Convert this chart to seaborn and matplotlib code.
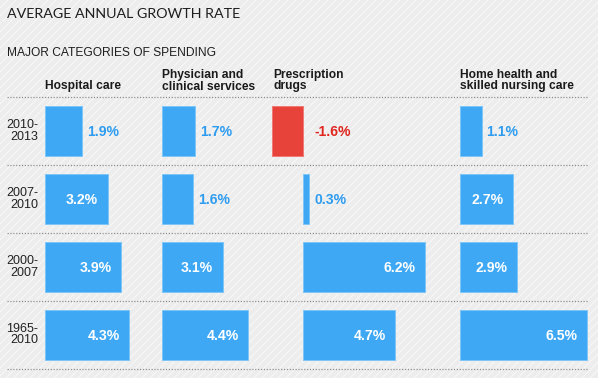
import matplotlib.pyplot as plt
from matplotlib.patches import Rectangle
import seaborn as sns
import pandas as pd

# data
periods = ["2010-\n2013", "2007-\n2010", "2000-\n2007", "1965-\n2010"]
categories = ["Hospital care", "Physician and\nclinical services",
              "Prescription\ndrugs", "Home health and\nskilled nursing care"]
hospital = [1.9, 3.2, 3.9, 4.3]
physician = [1.7, 1.6, 3.1, 4.4]
prescription = [-1.6, 0.3, 6.2, 4.7]
home_health = [1.1, 2.7, 2.9, 6.5]

series = [hospital, physician, prescription, home_health]

# layout (pixels)
W, H, DPI = 598, 378, 72
col_zero = [45, 162, 303, 460]      # where 0% sits in each column
px_per_pct = 19.6
xmin, xmax = -2.0, 6.7
rows_top, rows_bottom = 97.3, 368.5

BLUE = "#3ea8f5"
BLUE_EDGE = "#7ec5f8"
BLUE_TEXT = "#2d9cf0"
RED = "#e8433b"
RED_EDGE = "#f07a74"
RED_TEXT = "#e0251e"

sns.set_style("white")
plt.rcParams["font.family"] = ["Liberation Sans", "DejaVu Sans"]
plt.rcParams["hatch.linewidth"] = 1.0


def fx(x):
    return x / W


def fy(y):
    return 1 - y / H


fig = plt.figure(figsize=(W / DPI, H / DPI), dpi=DPI)
fig.patch.set_facecolor("#ededed")
fig.add_artist(Rectangle((0, 0), 1, 1, transform=fig.transFigure, facecolor="none",
                         edgecolor="#f8f8f8", hatch="///", lw=0, zorder=-5))

# titles
fig.text(fx(7), fy(18), "AVERAGE ANNUAL GROWTH RATE", family=["Lato", "DejaVu Sans"],
         fontweight="normal", fontsize=14.2, color="#1e1e1e", va="baseline")
fig.text(fx(7), fy(56), "MAJOR CATEGORIES OF SPENDING", fontsize=12,
         color="#1e1e1e", va="baseline")

# background axes for dotted separators and period labels
ax_bg = fig.add_axes([fx(7), fy(rows_bottom), fx(588 - 7), (rows_bottom - rows_top) / H])
ax_bg.set_xlim(0, 1)
ax_bg.set_ylim(len(periods) - 0.5, -0.5)
ax_bg.axis("off")
for k in range(len(periods) + 1):
    ax_bg.axhline(k - 0.5, color="#8c8c8c", lw=1.2, ls=(0, (1, 1.4)), clip_on=False)
for i, p in enumerate(periods):
    ax_bg.annotate(p, xy=(0, i), xycoords=("axes fraction", "data"), xytext=(31, 0),
                   textcoords="offset points", ha="right", va="center",
                   fontsize=12.5, color="#222222", linespacing=0.95)

df = pd.DataFrame({
    "period": periods * len(categories),
    "category": [c for c in categories for _ in periods],
    "value": [v for s in series for v in s],
})

for j, cat in enumerate(categories):
    sub = df[df["category"] == cat]
    left_px = col_zero[j] + xmin * px_per_pct
    width_px = (xmax - xmin) * px_per_pct
    ax = fig.add_axes([fx(left_px), fy(rows_bottom), width_px / W,
                       (rows_bottom - rows_top) / H])
    colors = {p: (RED if v < 0 else BLUE) for p, v in zip(sub["period"], sub["value"])}
    sns.barplot(data=sub, x="value", y="period", hue="period", palette=colors,
                legend=False, orient="h", width=0.735, ax=ax, saturation=1)
    for bar, v in zip(ax.patches, sub["value"]):
        bar.set_edgecolor(RED_EDGE if v < 0 else BLUE_EDGE)
        bar.set_linewidth(1.0)
    ax.set_xlim(xmin, xmax)
    ax.set_ylim(len(periods) - 0.5, -0.5)
    ax.set_facecolor("none")
    ax.axis("off")

    for i, v in enumerate(sub["value"]):
        label = f"{v:.1f}%"
        if v >= 2.5:
            ax.annotate(label, xy=(v, i), xytext=(-9.5, -1), textcoords="offset points",
                        ha="right", va="center", fontsize=14, fontweight="bold",
                        color="white")
        else:
            ax.annotate(label, xy=(max(v, 0.35), i), xytext=(4.5, -1),
                        textcoords="offset points", ha="left", va="center",
                        fontsize=14, fontweight="bold",
                        color=RED_TEXT if v < 0 else BLUE_TEXT)

    # column header
    hx = col_zero[j] if j != 2 else 273
    fig.text(fx(hx), fy(92.5), cat, fontsize=12, fontweight="bold", color="#1a1a1a",
             ha="left", va="bottom", linespacing=0.95)

fig.savefig("out.png", dpi=DPI)
